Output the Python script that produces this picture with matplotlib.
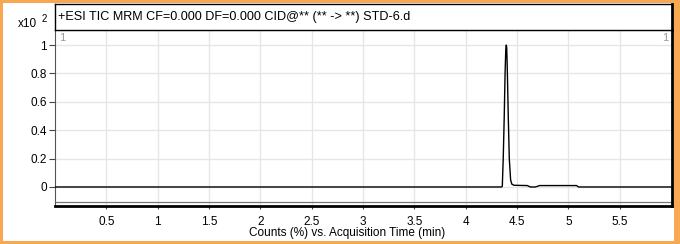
import matplotlib
matplotlib.use("Agg")
import matplotlib.pyplot as plt
from matplotlib.patches import Rectangle

plt.rcParams['font.family'] = ['Liberation Sans', 'DejaVu Sans']

# Data, y in units of x10^2 counts (%)
time_min = [0.0, 4.35, 4.357, 4.366, 4.376, 4.384, 4.391, 4.396, 4.400, 4.405,
            4.410, 4.415, 4.425, 4.438, 4.45, 4.47, 4.60, 4.63, 4.68, 4.72,
            5.08, 5.10, 6.0]
counts = [0.0, 0.0, 0.005, 0.2, 0.5, 0.8, 0.97, 1.0, 0.98, 0.85,
          0.68, 0.5, 0.2, 0.05, 0.02, 0.012, 0.01, 0.0, 0.0, 0.01,
          0.01, 0.0, 0.0]
x_ticks = [0.5, 1, 1.5, 2, 2.5, 3, 3.5, 4, 4.5, 5, 5.5]
x_tick_labels = ['0.5', '1', '1.5', '2', '2.5', '3', '3.5', '4', '4.5', '5', '5.5']
y_ticks = [0, 0.2, 0.4, 0.6, 0.8, 1.0]
y_tick_labels = ['0', '0.2', '0.4', '0.6', '0.8', '1']
title = "+ESI TIC MRM CF=0.000 DF=0.000 CID@** (** -> **) STD-6.d"
xlabel = "Counts (%) vs. Acquisition Time (min)"

W, H = 680, 244
fig = plt.figure(figsize=(W / 100, H / 100), dpi=100, facecolor='#F7A850')

def fx(px):
    return px / W

def fy(py):
    return 1 - py / H

# white inner panel
fig.patches.append(Rectangle((fx(3), fy(241)), fx(671), (238) / H,
                             transform=fig.transFigure, facecolor='white',
                             edgecolor='none', zorder=-10))

# plot axes
L, R, T, B = 55, 672, 30, 206
ax = fig.add_axes([fx(L), fy(B), fx(R - L), (B - T) / H])
ax.plot(time_min, counts, color='black', lw=1.0, zorder=3)
ax.set_xlim(0, 6.01)
ax.set_ylim(-0.134, 1.106)
ax.set_xticks(x_ticks)
ax.set_xticklabels(x_tick_labels)
ax.set_yticks(y_ticks)
ax.set_yticklabels(y_tick_labels)
ax.grid(True, color='#e6e6e6', lw=1.0, zorder=0)
ax.set_axisbelow(True)
ax.tick_params(axis='x', length=2.5, width=0.8, pad=4.5, labelsize=8.5,
               color='#444444')
ax.tick_params(axis='y', length=4, width=0.8, pad=2, labelsize=8.5, color='#444444')
for s in ['left', 'top']:
    ax.spines[s].set_color('#555555')
    ax.spines[s].set_linewidth(0.8)
for s in ['bottom', 'right']:
    ax.spines[s].set_color('black')
    ax.spines[s].set_linewidth(2.0)
ax.axhline(-0.105, color='#777777', lw=0.9, zorder=2)
ax.set_xlabel(xlabel, fontsize=8.5)
ax.xaxis.set_label_coords((347 - L) / (R - L), -(233 - B) / (B - T))
ax.xaxis.label.set_va('center')
ax.text(0.006, 0.985, '1', transform=ax.transAxes, ha='left', va='top',
        fontsize=8, color='#999999')
ax.text(0.994, 0.985, '1', transform=ax.transAxes, ha='right', va='top',
        fontsize=8, color='#999999')

# title box
tax = fig.add_axes([fx(L), fy(T), fx(R - L), (T - 4) / H])
tax.set_xticks([])
tax.set_yticks([])
for s in tax.spines.values():
    s.set_color('black')
    s.set_linewidth(1.0)
tax.spines['right'].set_linewidth(2.0)
tax.text(0.005, 0.5, title, ha='left', va='center', fontsize=9.1,
         transform=tax.transAxes)

# exponent label
fig.text(fx(37), fy(24), 'x10', ha='right', va='center', fontsize=8.5)
fig.text(fx(44), fy(19), '2', ha='center', va='center', fontsize=7)

fig.savefig('out.png', dpi=100, facecolor=fig.get_facecolor())
